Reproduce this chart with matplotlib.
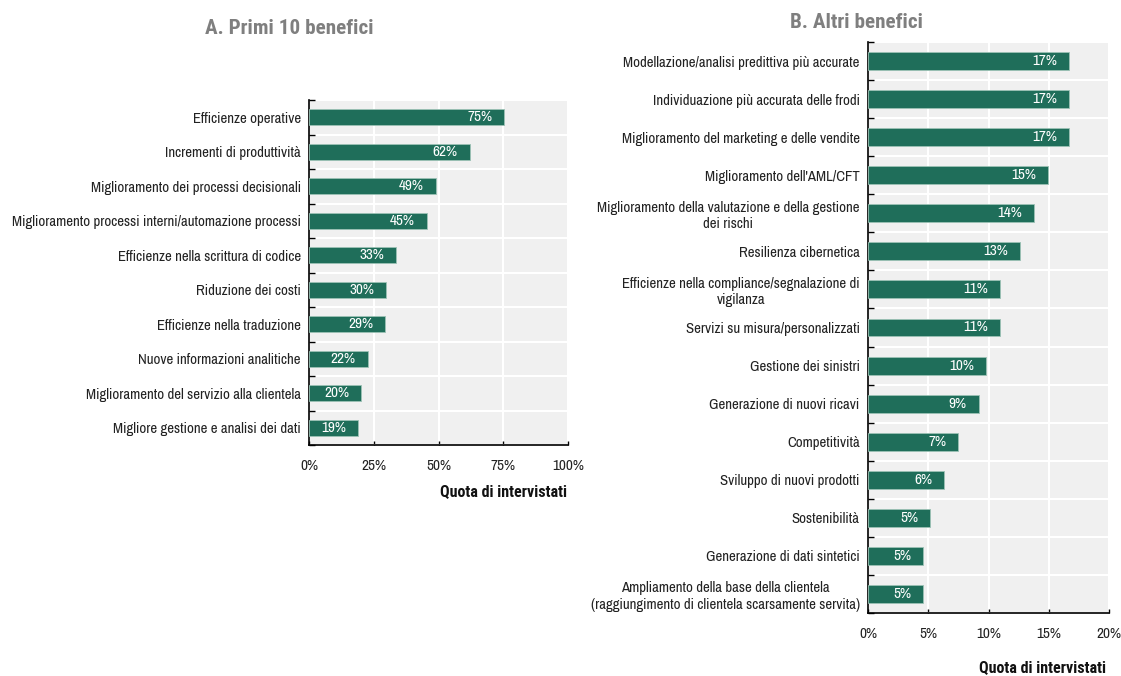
import numpy as np
import matplotlib
matplotlib.use("Agg")
import matplotlib.pyplot as plt

plt.rcParams["font.family"] = ["Archivo Narrow", "Liberation Sans", "DejaVu Sans"]
BOLD_FAMILY = ["Roboto Condensed", "Saira SemiCondensed", "Liberation Sans", "DejaVu Sans"]

top_labels = [
    "Efficienze operative",
    "Incrementi di produttività",
    "Miglioramento dei processi decisionali",
    "Miglioramento processi interni/automazione processi",
    "Efficienze nella scrittura di codice",
    "Riduzione dei costi",
    "Efficienze nella traduzione",
    "Nuove informazioni analitiche",
    "Miglioramento del servizio alla clientela",
    "Migliore gestione e analisi dei dati",
]
top_values = [75.3, 62.0, 49.0, 45.5, 33.5, 29.9, 29.4, 22.6, 20.1, 19.1]
top_text = ["75%", "62%", "49%", "45%", "33%", "30%", "29%", "22%", "20%", "19%"]
top_ticks = [0, 25, 50, 75, 100]

other_labels = [
    "Modellazione/analisi predittiva più accurate",
    "Individuazione più accurata delle frodi",
    "Miglioramento del marketing e delle vendite",
    "Miglioramento dell'AML/CFT",
    "Miglioramento della valutazione e della gestione\ndei rischi",
    "Resilienza cibernetica",
    "Efficienze nella compliance/segnalazione di\nvigilanza",
    "Servizi su misura/personalizzati",
    "Gestione dei sinistri",
    "Generazione di nuovi ricavi",
    "Competitività",
    "Sviluppo di nuovi prodotti",
    "Sostenibilità",
    "Generazione di dati sintetici",
    "Ampliamento della base della clientela\n(raggiungimento di clientela scarsamente servita)",
]
other_values = [16.7, 16.7, 16.7, 14.97, 13.8, 12.65, 10.94, 10.94, 9.78, 9.2, 7.48, 6.32, 5.16, 4.58, 4.58]
other_text = ["17%", "17%", "17%", "15%", "14%", "13%", "11%", "11%", "10%", "9%", "7%", "6%", "5%", "5%", "5%"]
other_ticks = [0, 5, 10, 15, 20]

BAR = "#1F6E5A"
W, H = 1121, 676


def draw_panel(ax, labels, values, texts, ticks, pad_px):
    n = len(labels)
    y = np.arange(n)
    ax.set_facecolor("#F0F0F0")
    ax.barh(y, values, height=0.47, color=BAR, edgecolor="#9CC2B5", linewidth=0.6, zorder=3)
    for yi, v, t in zip(y, values, texts):
        ax.annotate(t, (v, yi), xytext=(-pad_px, 0), textcoords="offset pixels",
                    ha="right", va="center", color="white", fontsize=11, zorder=4)
    ax.set_xlim(0, ticks[-1])
    ax.set_ylim(n - 0.5, -0.5)
    ax.set_yticks(y)
    ax.set_yticklabels(labels, fontsize=10.7, color="#222222", multialignment="center")
    ax.set_yticks(np.arange(n + 1) - 0.5, minor=True)
    ax.tick_params(axis="y", which="major", length=0, pad=6)
    ax.tick_params(axis="y", which="minor", direction="in", length=4, width=1, color="black")
    ax.set_xticks(ticks)
    ax.set_xticklabels([f"{t}%" for t in ticks], fontsize=11, color="#222222")
    ax.tick_params(axis="x", direction="in", length=3, width=1, pad=10)
    ax.grid(axis="x", which="major", color="white", linewidth=1.5, zorder=1)
    ax.grid(axis="y", which="minor", color="white", linewidth=1.5, zorder=1)
    ax.set_axisbelow(True)
    for s in ["top", "right"]:
        ax.spines[s].set_visible(False)
    for s in ["left", "bottom"]:
        ax.spines[s].set_color("black")
        ax.spines[s].set_linewidth(1.2)


fig = plt.figure(figsize=(W / 100, H / 100), dpi=100)
ax1 = fig.add_axes([309 / W, 1 - 445 / H, (568 - 309) / W, (445 - 100) / H])
ax2 = fig.add_axes([868 / W, 1 - 613 / H, (1109 - 868) / W, (613 - 42) / H])

draw_panel(ax1, top_labels, top_values, top_text, top_ticks, 12)
draw_panel(ax2, other_labels, other_values, other_text, other_ticks, 12)

fig.text(289 / W, 1 - 28 / H, "A. Primi 10 benefici", ha="center", va="center",
         fontsize=15.2, fontweight="bold", color="#7F7F7F", family=BOLD_FAMILY)
fig.text(856 / W, 1 - 22 / H, "B. Altri benefici", ha="center", va="center",
         fontsize=15.2, fontweight="bold", color="#7F7F7F", family=BOLD_FAMILY)
fig.text(567 / W, 1 - 492 / H, "Quota di intervistati", ha="right", va="center",
         fontsize=11.5, fontweight="bold", color="#111111", family=BOLD_FAMILY)
fig.text(1106 / W, 1 - 668 / H, "Quota di intervistati", ha="right", va="center",
         fontsize=11.5, fontweight="bold", color="#111111", family=BOLD_FAMILY)

fig.savefig("out.png", dpi=100)
